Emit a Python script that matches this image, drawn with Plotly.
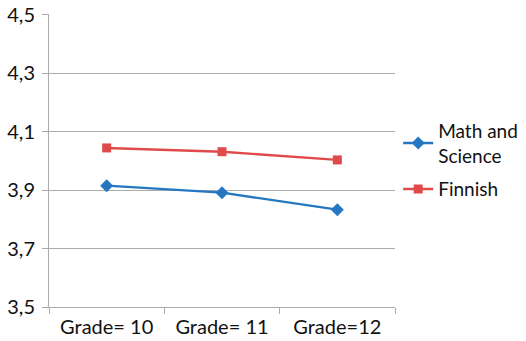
import plotly.graph_objects as go

categories = ["Grade= 10", "Grade= 11", "Grade=12"]
math_science = [3.915, 3.891, 3.833]
finnish = [4.044, 4.031, 4.003]
y_ticks = [3.5, 3.7, 3.9, 4.1, 4.3, 4.5]
y_tick_labels = ["3,5", "3,7", "3,9", "4,1", "4,3", "4,5"]

blue = "#2677C2"
red = "#E04A4A"
grid = "#ABABAB"
font = "Lato, Open Sans, sans-serif"

fig = go.Figure()
fig.add_trace(go.Scatter(
    x=categories, y=math_science, name="Math and<br>Science",
    mode="lines+markers", legendgroup="a",
    line=dict(color=blue, width=2.4),
    marker=dict(symbol="diamond", size=10, color=blue),
))
fig.add_trace(go.Scatter(
    x=categories, y=finnish, name="Finnish",
    mode="lines+markers", legendgroup="b",
    line=dict(color=red, width=2.4),
    marker=dict(symbol="square", size=9, color=red),
))

fig.update_layout(
    width=526, height=341,
    margin=dict(l=49, r=131, t=14, b=34),
    paper_bgcolor="white", plot_bgcolor="white",
    font=dict(family=font, size=20, color="#111111"),
    legend=dict(xref="container", yref="container", x=0.757, y=0.53,
                xanchor="left", yanchor="middle",
                font=dict(size=19), tracegroupgap=6),
)
fig.update_xaxes(
    type="category", showgrid=False,
    showline=True, linecolor=grid, linewidth=1,
    ticks="outside", tickson="boundaries", ticklen=6, tickcolor=grid,
    ticklabelstandoff=2,
    range=[-0.5, 2.5], automargin=False,
)
fig.update_yaxes(
    range=[3.5, 4.502], tickvals=y_ticks, ticktext=y_tick_labels,
    showgrid=True, gridcolor=grid, gridwidth=1,
    showline=True, linecolor=grid, linewidth=1,
    ticks="outside", ticklen=6, tickcolor=grid, ticklabelstandoff=3,
    tickfont=dict(size=20),
    zeroline=False, automargin=False, ticklabeloverflow="allow",
)

fig.write_html(
    "out.html",
    config={"displayModeBar": False},
    post_script="document.body.style.margin='0';document.body.style.padding='0';",
)
